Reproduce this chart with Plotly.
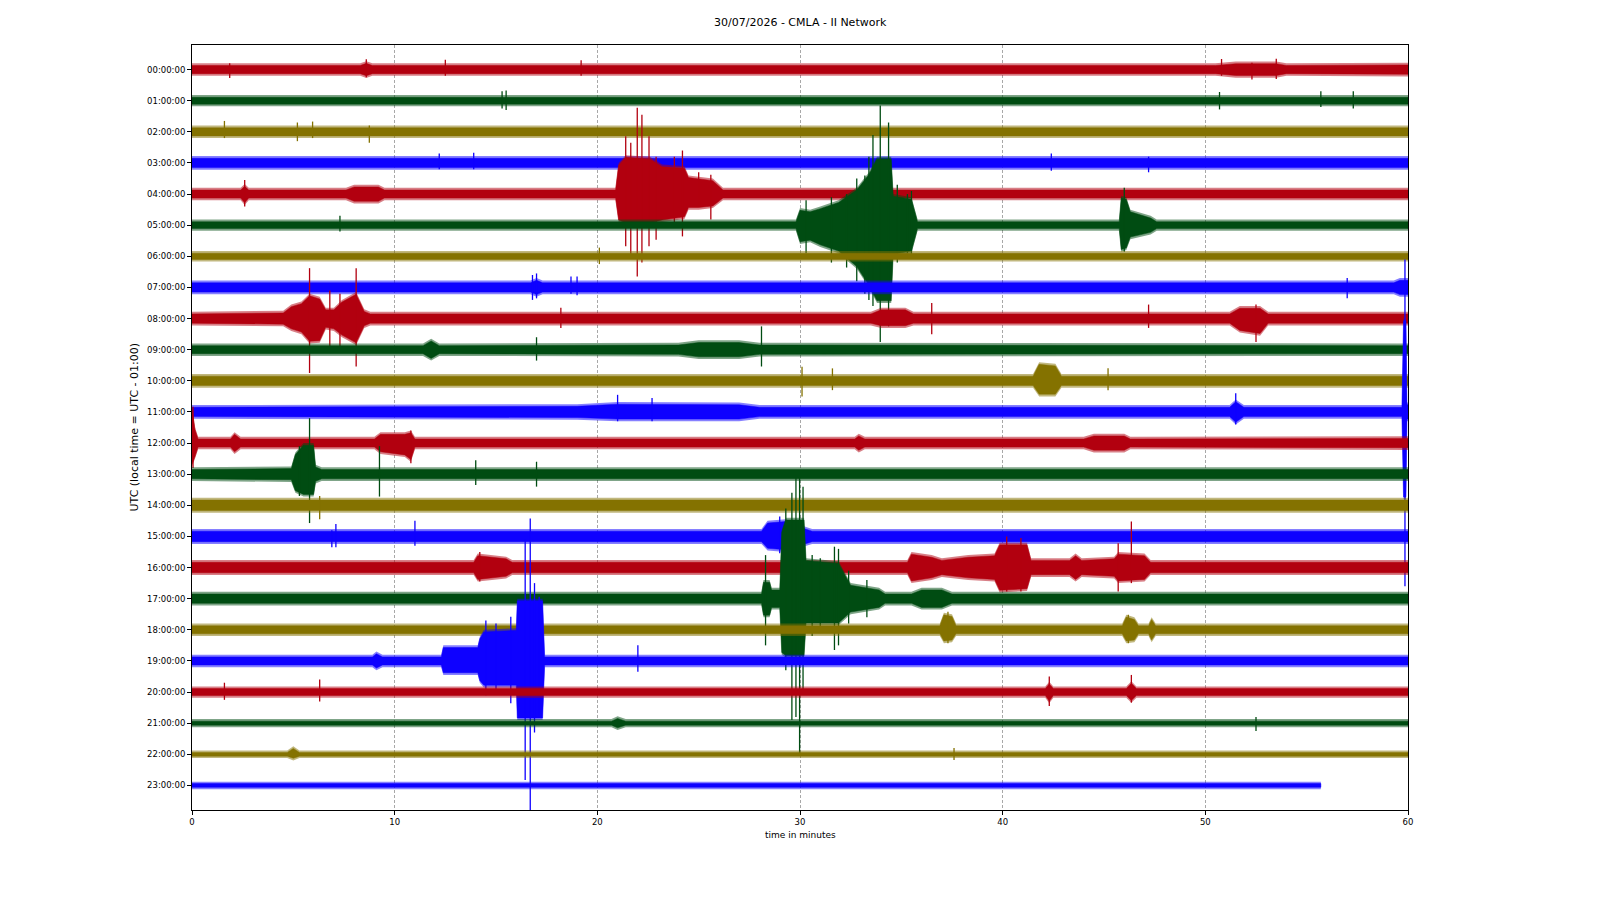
import plotly.graph_objects as go

# ---------------- data ----------------
TITLE = "30/07/2026 - CMLA - II Network"
X_LABEL = "time in minutes"
Y_LABEL = "UTC (local time = UTC - 01:00)"

HOUR_LABELS = ["00:00:00", "01:00:00", "02:00:00", "03:00:00", "04:00:00", "05:00:00",
               "06:00:00", "07:00:00", "08:00:00", "09:00:00", "10:00:00", "11:00:00",
               "12:00:00", "13:00:00", "14:00:00", "15:00:00", "16:00:00", "17:00:00",
               "18:00:00", "19:00:00", "20:00:00", "21:00:00", "22:00:00", "23:00:00"]
X_TICKS = [0, 10, 20, 30, 40, 50, 60]
TRACE_COLORS = ["#B2000F", "#004C12", "#847200", "#0E01FF"]

# Envelope knots per hour row: (minute, amplitude up, amplitude down) in row units
r00_env = [(0, .2, .2), (8.3, .2, .2), (8.6, .27, .27), (8.9, .2, .2), (50.5, .2, .2),
           (51.5, .26, .26), (53.5, .26, .26), (54.0, .2, .2), (60, .22, .22)]
r01_env = [(0, .18, .18), (60, .18, .18)]
r02_env = [(0, .2, .2), (60, .2, .2)]
r03_env = [(0, .22, .22), (60, .22, .22)]
r04_env = [(0, .2, .2), (2.4, .2, .2), (2.6, .32, .35), (2.8, .2, .2), (7.6, .2, .2), (8.0, .3, .3),
           (9.2, .3, .3), (9.5, .2, .2), (20.9, .2, .2), (21.05, 1.0, 0.9), (21.4, 1.25, 1.0),
           (22.6, 1.2, 1.0), (23.2, 0.95, 0.9), (24.3, 0.9, 0.8), (24.5, 0.6, 0.5),
           (25.0, 0.55, 0.5), (25.7, 0.5, 0.45), (26.2, .2, .2), (60, .2, .2)]
r05_env = [(0, .18, .18), (29.8, .18, .18), (30.0, .55, .6), (30.5, .5, .55), (31.0, .6, .7),
           (31.9, .8, .9), (32.8, 1.2, 1.4), (33.4, 1.7, 2.0), (33.8, 2.2, 2.5), (34.5, 2.2, 2.5),
           (34.6, 1.0, 1.0), (35.5, 0.9, 0.9), (35.8, .18, .18), (45.75, .18, .18), (45.85, .95, .85),
           (46.1, .9, .8), (46.3, .5, .45), (47.3, .3, .3), (47.6, .18, .18), (60, .18, .18)]
r06_env = [(0, .17, .17), (60, .17, .17)]
r07_env = [(0, .22, .22), (16.7, .22, .22), (17.0, .3, .3), (17.3, .22, .22), (59.3, .22, .22),
           (59.6, .3, .3), (60, .3, .3)]
r08_env = [(0, .22, .22), (4.5, .25, .25), (4.9, .45, .4), (5.4, .55, .5), (5.8, .8, .8), (6.3, .7, .78),
           (6.6, .35, .35), (7.0, .35, .4), (7.4, .6, .6), (8.1, .85, .85), (8.5, .3, .3), (8.8, .22, .22),
           (33.5, .22, .22), (34.0, .35, .3), (35.2, .35, .3), (35.6, .22, .22), (51.2, .22, .22),
           (51.7, .4, .45), (52.7, .4, .55), (53.1, .22, .22), (60, .22, .22)]
r09_env = [(0, .2, .2), (11.4, .2, .2), (11.8, .35, .35), (12.2, .2, .2), (24, .22, .22), (25, .3, .3),
           (27, .3, .3), (28, .22, .22), (60, .2, .2)]
r10_env = [(0, .22, .22), (41.5, .22, .22), (41.8, .6, .5), (42.6, .55, .5), (42.9, .22, .22), (60, .22, .22)]
r11_env = [(0, .22, .22), (19, .25, .25), (21, .32, .3), (27, .3, .3), (28, .22, .22), (51.2, .22, .22),
           (51.5, .4, .4), (51.9, .22, .22), (59.7, .22, .22), (59.78, 3.0, 2.8), (59.9, 3.0, 2.8),
           (59.95, .3, .3), (60, .3, .3)]
r12_env = [(0, 1.17, .75), (0.15, .5, .5), (0.3, .2, .2), (1.9, .2, .2), (2.1, .35, .35), (2.4, .2, .2),
           (9.0, .2, .2), (9.3, .35, .35), (10.5, .35, .45), (10.8, .4, .6), (11.0, .2, .2), (32.7, .2, .2),
           (32.9, .3, .3), (33.2, .2, .2), (44, .2, .2), (44.5, .3, .3), (46, .3, .3), (46.3, .2, .2),
           (60, .22, .22)]
r13_env = [(0, .22, .22), (4.9, .25, .25), (5.1, .7, .6), (5.5, 1.0, .72), (6.0, 1.0, .72), (6.1, .3, .3),
           (6.4, .22, .22), (60, .22, .22)]
r14_env = [(0, .24, .24), (60, .24, .24)]
r15_env = [(0, .24, .24), (28.1, .24, .24), (28.4, .5, .45), (29.3, .55, .5), (30.3, .3, .3),
           (30.6, .24, .24), (60, .24, .24)]
r16_env = [(0, .24, .24), (13.9, .24, .24), (14.1, .45, .45), (15.5, .35, .35), (15.8, .24, .24),
           (35.3, .24, .24), (35.5, .5, .5), (36.5, .4, .4), (37, .3, .3), (38.3, .4, .4), (39.6, .45, .45),
           (39.85, .8, .8), (41.2, .8, .75), (41.4, .3, .3), (43.3, .3, .3), (43.6, .45, .45), (43.9, .3, .3),
           (45.5, .35, .35), (45.7, .5, .5), (47, .45, .45), (47.3, .24, .24), (60, .24, .24)]
r17_env = [(0, .22, .22), (28.1, .22, .22), (28.2, .6, .6), (28.5, .6, .6), (28.6, .35, .35),
           (29.0, .35, .35), (29.1, 2.2, 1.8), (29.3, 2.6, 1.9), (30.2, 2.6, 1.9), (30.3, 1.3, .85),
           (31.9, 1.2, .85), (32.5, .5, .5), (33.9, .35, .35), (34.2, .22, .22),
           (35.5, .22, .22), (36, .35, .35), (37, .35, .35), (37.5, .22, .22), (60, .22, .22)]
r18_env = [(0, .2, .2), (36.9, .2, .2), (37.1, .55, .43), (37.5, .5, .4), (37.7, .2, .2), (45.9, .2, .2),
           (46.1, .48, .43), (46.5, .4, .4), (46.7, .2, .2), (47.2, .2, .2), (47.35, .4, .4),
           (47.55, .2, .2), (60, .2, .2)]
r19_env = [(0, .2, .2), (8.9, .2, .2), (9.1, .3, .3), (9.4, .2, .2), (12.3, .2, .2), (12.4, .5, .45),
           (14.1, .5, .45), (14.2, .78, .7), (14.4, 1.0, .85), (16.0, 1.05, .85), (16.05, 2.0, 1.9),
           (17.3, 2.0, 1.9), (17.4, .2, .2), (60, .2, .2)]
r20_env = [(0, .18, .18), (42.1, .18, .18), (42.3, .33, .36), (42.5, .18, .18), (46.1, .18, .18),
           (46.35, .35, .34), (46.6, .18, .18), (60, .18, .18)]
r21_env = [(0, .13, .13), (20.7, .13, .13), (21.0, .22, .22), (21.4, .13, .13), (60, .13, .13)]
r22_env = [(0, .12, .12), (4.7, .12, .12), (5.0, .26, .2), (5.3, .12, .12), (60, .12, .12)]
r23_env = [(0, .12, .12), (55.7, .12, .12)]

# Isolated spikes per row: (minute, amplitude up, amplitude down)
r00_spk = [(1.86, .2, .27), (8.6, .33, .25), (12.5, .32, .2), (19.2, .3, .2), (50.8, .34, .2),
           (52.3, .22, .32), (53.5, .35, .3)]
r01_spk = [(15.3, .3, .25), (15.5, .33, .3), (50.7, .28, .28), (55.7, .3, .2), (57.3, .3, .25)]
r02_spk = [(1.6, .35, .2), (5.2, .3, .3), (5.95, .33, .2), (8.75, .2, .35)]
r03_spk = [(12.2, .3, .2), (13.9, .33, .2), (42.4, .3, .25), (47.2, .2, .3)]
r04_spk = [(21.4, 1.86, 1.68), (21.65, 1.65, 2.0), (21.97, 2.77, 2.65), (22.2, 2.55, 2.2),
           (22.55, 1.86, 1.68), (22.9, 1.2, 1.47), (23.8, 1.2, .9), (24.2, 1.4, 1.36),
           (25.0, .7, .4), (25.6, .62, .82), (2.6, .45, .4)]
r05_spk = [(7.3, .3, .2), (30.3, .8, .9), (31.55, .9, 1.2), (32.3, 1.0, 1.36), (32.8, 1.5, 1.8),
           (33.2, 1.6, 2.2), (33.4, 2.2, 2.4), (33.6, 2.9, 2.6), (33.96, 3.85, 3.75), (34.37, 3.3, 3.25),
           (34.8, 1.3, 1.2), (35.3, 1.0, .9), (35.5, 1.1, 1.0), (46.0, 1.2, .85)]
r06_spk = [(20.1, .28, .25)]
r07_spk = [(16.8, .4, .4), (17.0, .45, .35), (18.7, .35, .2), (19.0, .35, .25), (57.0, .3, .35)]
r08_spk = [(5.8, 1.62, 1.75), (6.8, .9, .9), (7.3, .8, .9), (8.1, 1.62, 1.54), (36.5, .5, .5),
           (47.2, .45, .3), (52.5, .45, .75), (18.2, .35, .3)]
r09_spk = [(17.0, .4, .35), (28.1, .75, .54)]
r10_spk = [(30.1, .45, .5), (31.6, .4, .3), (45.2, .4, .3)]
r11_spk = [(59.85, 4.9, 5.6), (21.0, .55, .3), (22.7, .45, .3), (51.5, .6, .4)]
r12_spk = [(0.05, 1.17, .8), (10.8, .4, .65)]
r13_spk = [(5.3, .9, .7), (5.8, 1.8, 1.57), (9.25, .9, .72), (14.0, .45, .35), (17.0, .4, .4)]
r14_spk = [(6.3, .3, .45)]
r15_spk = [(6.9, .2, .35), (7.1, .4, .35), (11.0, .5, .3), (29.0, .64, .54)]
r16_spk = [(40.2, 1.0, .77), (40.9, .95, .77), (45.7, .78, .77), (46.35, 1.48, .5), (14.2, .5, .45)]
r17_spk = [(28.3, 1.4, 1.5), (29.3, 2.9, 2.3), (29.6, 3.4, 3.9), (29.8, 3.9, 3.8), (29.98, 3.9, 5.0),
           (30.15, 3.6, 3.0), (30.6, 1.4, 1.2), (31.0, 1.3, 1.1), (31.7, 1.67, 1.65), (31.9, 1.6, 1.5),
           (32.4, .9, .8), (33.3, .6, .6)]
r18_spk = [(37.3, .58, .43), (46.2, .48, .43)]
r19_spk = [(15.73, 1.42, 1.36), (16.44, 3.9, 3.83), (16.69, 4.58, 4.8), (17.13, 2.06, 1.8),
           (16.9, 2.5, 2.3), (15.0, 1.2, 1.0), (14.5, 1.3, 1.1), (22.0, .5, .35)]
r20_spk = [(1.6, .3, .25), (6.3, .4, .3), (42.3, .5, .45), (46.35, .55, .34)]
r21_spk = [(52.5, .2, .25)]
r22_spk = [(37.6, .2, .18)]
r23_spk = []

ENVELOPES = [r00_env, r01_env, r02_env, r03_env, r04_env, r05_env, r06_env, r07_env,
             r08_env, r09_env, r10_env, r11_env, r12_env, r13_env, r14_env, r15_env,
             r16_env, r17_env, r18_env, r19_env, r20_env, r21_env, r22_env, r23_env]
SPIKES = [r00_spk, r01_spk, r02_spk, r03_spk, r04_spk, r05_spk, r06_spk, r07_spk,
          r08_spk, r09_spk, r10_spk, r11_spk, r12_spk, r13_spk, r14_spk, r15_spk,
          r16_spk, r17_spk, r18_spk, r19_spk, r20_spk, r21_spk, r22_spk, r23_spk]

# ---------------- figure ----------------
FONT = "DejaVu Sans"
FRINGE = 0.07  # rendering: width (row units) of the semi-transparent noisy fringe


def band(row, env, shrink):
    xs = [k[0] for k in env] + [k[0] for k in reversed(env)]
    ups = [max(k[1] - shrink, k[1] * 0.5) for k in env]
    downs = [max(k[2] - shrink, k[2] * 0.5) for k in env]
    ys = [row - u for u in ups] + [row + d for d in reversed(downs)]
    return xs, ys


fig = go.Figure()

for row, (env, spk) in enumerate(zip(ENVELOPES, SPIKES)):
    color = TRACE_COLORS[row % len(TRACE_COLORS)]
    xo, yo = band(row, env, 0.0)
    fig.add_trace(go.Scatter(x=xo, y=yo, mode="lines", fill="toself", fillcolor=color,
                             line=dict(color=color, width=0), opacity=0.5,
                             hoverinfo="skip", showlegend=False))
    xi, yi = band(row, env, FRINGE)
    fig.add_trace(go.Scatter(x=xi, y=yi, mode="lines", fill="toself", fillcolor=color,
                             line=dict(color=color, width=0.5), hoverinfo="skip",
                             showlegend=False))
    if spk:
        sx, sy = [], []
        for t, up, down in spk:
            sx += [t, t, None]
            sy += [row - up, row + down, None]
        fig.add_trace(go.Scatter(x=sx, y=sy, mode="lines", line=dict(color=color, width=1.3),
                                 hoverinfo="skip", showlegend=False))

fig.update_layout(
    width=1600, height=900,
    margin=dict(l=184, r=200, t=37, b=98),
    paper_bgcolor="white", plot_bgcolor="white",
    font=dict(family=FONT, size=9, color="black"),
    showlegend=False,
    xaxis=dict(range=[0, 60], tickvals=X_TICKS, ticktext=[str(v) for v in X_TICKS],
               showline=True, mirror=True, linecolor="black", linewidth=1,
               ticks="outside", ticklen=4, tickcolor="black",
               showgrid=True, gridcolor="#a8a8a8", gridwidth=0.8, griddash="3px,2px",
               zeroline=False, tickfont=dict(size=8.5, family=FONT)),
    yaxis=dict(range=[23.79, -0.79], tickvals=list(range(24)), ticktext=HOUR_LABELS,
               showline=True, mirror=True, linecolor="black", linewidth=1,
               ticks="outside", ticklen=4, tickcolor="black",
               showgrid=False, zeroline=False, tickfont=dict(size=8.5, family=FONT)),
    annotations=[
        dict(text=TITLE, xref="paper", yref="paper", x=0.5, y=1, yshift=23,
             showarrow=False, font=dict(size=11, family=FONT), yanchor="middle"),
        dict(text=X_LABEL, xref="paper", yref="paper", x=0.5, y=0, yshift=-25,
             showarrow=False, font=dict(size=9, family=FONT), yanchor="middle"),
        dict(text=Y_LABEL, xref="paper", yref="paper", x=0, y=0.5, xshift=-58,
             showarrow=False, textangle=-90, font=dict(size=11, family=FONT), xanchor="center"),
    ],
)

fig.write_html("out.html")
